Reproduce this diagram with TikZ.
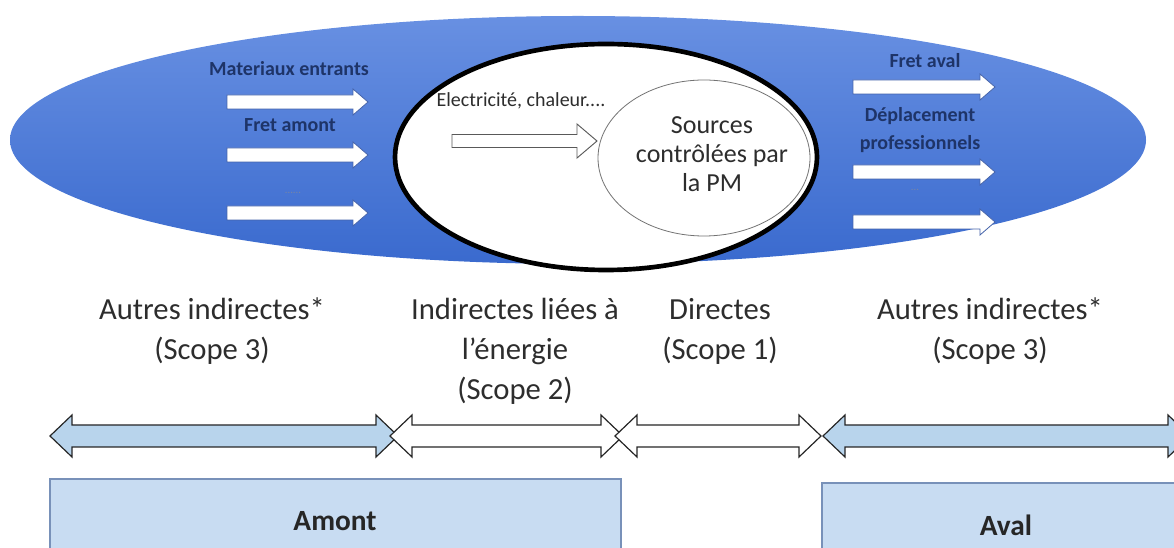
\documentclass[tikz,border=0pt]{standalone}
\usepackage{fontspec}
\setmainfont{Carlito}
\usepackage{xcolor}

\definecolor{ovaltop}{RGB}{104,144,226}
\definecolor{ovalmid}{RGB}{84,128,220}
\definecolor{ovalbot}{RGB}{58,106,206}
\definecolor{tagnavy}{RGB}{30,52,104}
\definecolor{flowedge}{RGB}{70,100,170}
\definecolor{scopefill}{RGB}{184,212,236}
\definecolor{sidefill}{RGB}{200,220,242}
\definecolor{sideedge}{RGB}{120,145,185}
\definecolor{inkgray}{RGB}{45,45,45}

\tikzset{
  flowarrow/.style={draw=flowedge, line width=0.6pt, fill=white},
  scopearrow/.style={draw=black!85, line width=0.9pt},
  tagtext/.style={inner sep=0.75pt, text=tagnavy, font=\fontsize{15}{21}\selectfont\bfseries, align=center},
  scopetext/.style={inner sep=0.75pt, text=inkgray, font=\fontsize{23}{30}\selectfont, align=center}
}

\begin{document}
\begin{tikzpicture}[x=0.75pt,y=0.75pt,yscale=-1,xscale=1]
\useasboundingbox (0,0) rectangle (1174,548);

%Shape: Ellipse [id:oval_emissions]
\shade [top color=ovaltop, middle color=ovalmid, bottom color=ovalbot] (578,140) ellipse (568 and 124);
%Shape: Ellipse [id:oval_energy]
\draw [line width=3.5pt, fill=white] (606,157) ellipse (211 and 113);
%Shape: Ellipse [id:oval_sources]
\draw [draw=black!55, line width=0.6pt, fill=white] (704,158) ellipse (106 and 78);

%Shape: Right Arrow [id:up_arrow_1]
\draw [flowarrow] (227,95) -- (353,95) -- (353,89) -- (368,102) -- (353,115) -- (353,109) -- (227,109) -- cycle ;
%Shape: Right Arrow [id:up_arrow_2]
\draw [flowarrow] (227,148) -- (353,148) -- (353,142) -- (368,155) -- (353,168) -- (353,162) -- (227,162) -- cycle ;
%Shape: Right Arrow [id:up_arrow_3]
\draw [flowarrow] (227,206) -- (353,206) -- (353,200) -- (368,213) -- (353,226) -- (353,220) -- (227,220) -- cycle ;
%Shape: Right Arrow [id:down_arrow_1]
\draw [flowarrow] (853,80) -- (980,80) -- (980,74) -- (995,87) -- (980,100) -- (980,94) -- (853,94) -- cycle ;
%Shape: Right Arrow [id:down_arrow_2]
\draw [flowarrow] (853,165) -- (980,165) -- (980,159) -- (995,172) -- (980,185) -- (980,179) -- (853,179) -- cycle ;
%Shape: Right Arrow [id:down_arrow_3]
\draw [flowarrow] (853,215) -- (980,215) -- (980,209) -- (995,222) -- (980,235) -- (980,229) -- (853,229) -- cycle ;
%Shape: Right Arrow [id:energy_arrow]
\draw [draw=black!65, line width=0.7pt, fill=white] (452,134.5) -- (577,134.5) -- (577,124) -- (597,141) -- (577,158) -- (577,147.5) -- (452,147.5) -- cycle ;

%Shape: Left-Right Arrow [id:scope3_up]
\draw [scopearrow, fill=scopefill] (50,436) -- (72,415) -- (72,425) -- (376,425) -- (376,415) -- (398,436) -- (376,457) -- (376,447) -- (72,447) -- (72,457) -- cycle ;
%Shape: Left-Right Arrow [id:scope2]
\draw [scopearrow, fill=white] (390,436) -- (412,415) -- (412,425) -- (601,425) -- (601,415) -- (623,436) -- (601,457) -- (601,447) -- (412,447) -- (412,457) -- cycle ;
%Shape: Left-Right Arrow [id:scope1]
\draw [scopearrow, fill=white] (615,436) -- (637,415) -- (637,425) -- (799,425) -- (799,415) -- (821,436) -- (799,457) -- (799,447) -- (637,447) -- (637,457) -- cycle ;
%Shape: Left-Right Arrow [id:scope3_down]
\draw [scopearrow, fill=scopefill] (823,436) -- (845,415) -- (845,425) -- (1168,425) -- (1168,415) -- (1190,436) -- (1168,457) -- (1168,447) -- (845,447) -- (845,457) -- cycle ;

%Shape: Rectangle [id:box_amont]
\draw [draw=sideedge, line width=0.8pt, fill=sidefill] (50,479) -- (621,479) -- (621,560) -- (50,560) -- cycle ;
%Shape: Rectangle [id:box_aval]
\draw [draw=sideedge, line width=0.8pt, fill=sidefill] (822,483) -- (1185,483) -- (1185,560) -- (822,560) -- cycle ;

% Text Node
\draw (289,76) node (matIn) [anchor=base][tagtext] {Materiaux entrants};
% Text Node
\draw (290,132) node (fretUp) [anchor=base][tagtext] {Fret amont};
% Text Node
\draw (293,193) node (dotsUp) [inner sep=0.75pt, text=tagnavy!60, font=\fontsize{8}{8}\selectfont] {......};
% Text Node
\draw (925,68) node (fretDown) [anchor=base][tagtext] {Fret aval};
% Text Node
\draw (920,150) node (travel) [anchor=base][tagtext] {Déplacement\\professionnels};
% Text Node
\draw (915,190) node (dotsDown) [inner sep=0.75pt, text=tagnavy!60, font=\fontsize{8}{8}\selectfont] {...};
% Text Node
\draw (521,107) node (energyTag) [anchor=base][inner sep=0.75pt, text=inkgray, font=\fontsize{15}{18}\selectfont] {Electricité, chaleur....};
% Text Node
\draw (712,192) node (sources) [anchor=base][inner sep=0.75pt, text=inkgray, font=\fontsize{19.5}{22}\selectfont, align=center] {Sources\\contrôlées par\\la PM};

% Text Node
\draw (212,360) node (otherUp) [anchor=base][scopetext] {Autres indirectes*\\(Scope 3)};
% Text Node
\draw (515,400) node (energyScope) [anchor=base][scopetext] {Indirectes liées à\\l’énergie\\(Scope 2)};
% Text Node
\draw (720,360) node (direct) [anchor=base][scopetext] {Directes\\(Scope 1)};
% Text Node
\draw (990,360) node (otherDown) [anchor=base][scopetext] {Autres indirectes*\\(Scope 3)};

% Text Node
\draw (335,530) node (amont) [anchor=base][inner sep=0.75pt, text=black!85, font=\fontsize{22}{26}\selectfont\bfseries] {Amont};
% Text Node
\draw (1006,535) node (aval) [anchor=base][inner sep=0.75pt, text=black!85, font=\fontsize{22}{26}\selectfont\bfseries] {Aval};

\end{tikzpicture}
\end{document}
